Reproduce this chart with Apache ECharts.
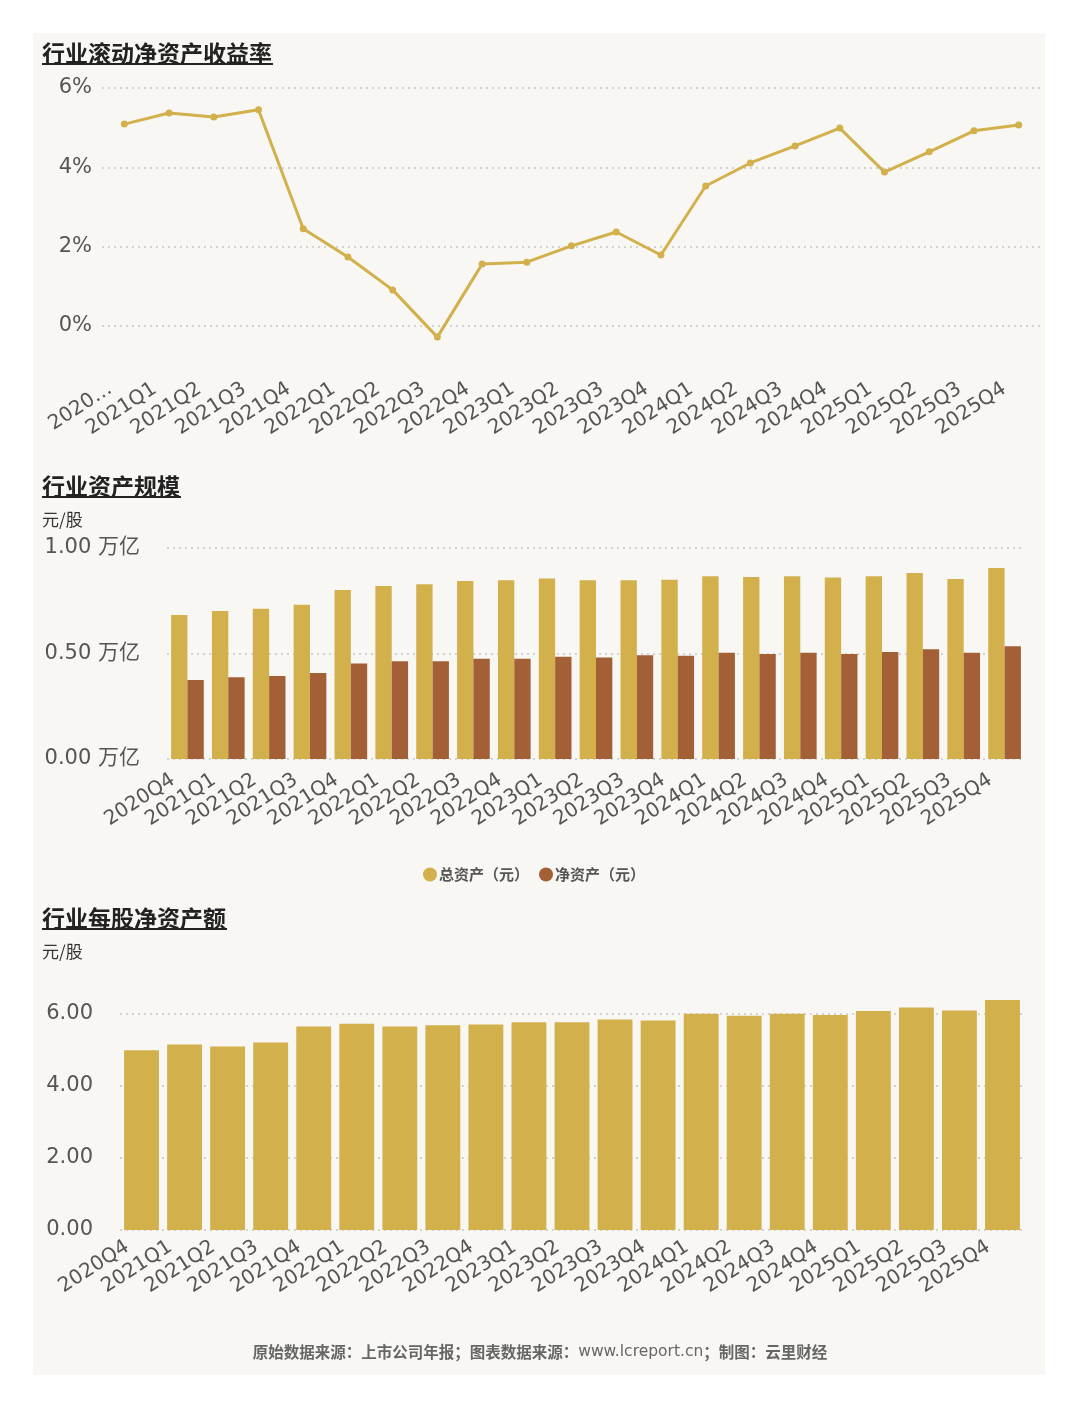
<!DOCTYPE html>
<html>
<head>
<meta charset="utf-8">
<script src="https://cdn.jsdelivr.net/npm/echarts@6/dist/echarts.min.js"></script>
<style>
  html, body { margin: 0; padding: 0; background: #fff; }
  #main { width: 1080px; height: 1410px; }
</style>
</head>
<body>
<div id="main"></div>
<script>
var quarters = ['2020Q4', '2021Q1', '2021Q2', '2021Q3', '2021Q4', '2022Q1', '2022Q2', '2022Q3', '2022Q4',
  '2023Q1', '2023Q2', '2023Q3', '2023Q4', '2024Q1', '2024Q2', '2024Q3', '2024Q4',
  '2025Q1', '2025Q2', '2025Q3', '2025Q4'];

// 行业滚动净资产收益率 (%)
var roeValues = [5.09, 5.37, 5.27, 5.45, 2.45, 1.74, 0.91, -0.28, 1.56, 1.61, 2.02, 2.37, 1.79,
  3.53, 4.11, 4.54, 4.99, 3.88, 4.39, 4.92, 5.07];

// 行业资产规模 (万亿)
var totalAssets = [0.682, 0.701, 0.712, 0.731, 0.801, 0.820, 0.828, 0.844, 0.847, 0.856, 0.847, 0.847, 0.850,
  0.866, 0.863, 0.866, 0.860, 0.866, 0.882, 0.853, 0.905];
var netAssets = [0.374, 0.387, 0.393, 0.408, 0.453, 0.463, 0.463, 0.475, 0.475, 0.485, 0.481, 0.492, 0.489,
  0.504, 0.498, 0.504, 0.498, 0.507, 0.520, 0.504, 0.534];

// 行业每股净资产额 (元/股)
var navPerShare = [4.99, 5.15, 5.10, 5.21, 5.65, 5.73, 5.65, 5.69, 5.71, 5.77, 5.77, 5.85, 5.82,
  6.01, 5.95, 6.01, 5.97, 6.08, 6.18, 6.10, 6.39];

var titles = ['行业滚动净资产收益率', '行业资产规模', '行业每股净资产额'];
var seriesNames = ['总资产（元）', '净资产（元）'];
var unitLabel = '元/股';
var footerParts = ['原始数据来源：上市公司年报；图表数据来源：', 'www.lcreport.cn', '；制图：云里财经'];

var GOLD = '#D2B04C';
var BROWN = '#A35F36';
var LABEL = '#555';
var latinFont = 'DejaVu Sans, Noto Sans CJK SC';
var cjkFont = 'Noto Sans CJK SC';

var chart = echarts.init(document.getElementById('main'));

var splitLine = {
  show: true,
  lineStyle: { color: '#c9c6c2', type: [2, 4], width: 1.5 }
};

function xCat(grid, offset, margin, fmt) {
  return {
    type: 'category',
    gridIndex: grid,
    data: quarters,
    offset: offset,
    axisLine: { show: false },
    axisTick: { show: false },
    axisLabel: {
      interval: 0,
      rotate: 33,
      margin: margin,
      padding: [0, 17, 0, 0],
      color: LABEL,
      fontSize: 20,
      fontFamily: latinFont,
      formatter: fmt
    }
  };
}

function yVal(grid, max, interval, fmt, margin) {
  return {
    type: 'value',
    gridIndex: grid,
    min: 0,
    max: max,
    interval: interval,
    axisLine: { show: false },
    axisTick: { show: false },
    splitLine: splitLine,
    axisLabel: { color: LABEL, fontSize: 21, fontFamily: latinFont, margin: margin, formatter: fmt }
  };
}

function titleBlock(text, y, underlineW) {
  return [{
    type: 'text',
    style: {
      text: text, x: 42, y: y, verticalAlign: 'middle',
      fontSize: 23, fontWeight: 'bold', fontFamily: cjkFont, fill: '#222'
    }
  }, {
    type: 'rect',
    shape: { x: 42, y: y + 10, width: underlineW, height: 2 },
    style: { fill: '#222' }
  }];
}

function unitText(y) {
  return {
    type: 'text',
    style: {
      text: unitLabel, x: 42, y: y, verticalAlign: 'middle',
      fontSize: 17, fontFamily: cjkFont, fill: '#333'
    }
  };
}

var graphics = [{
  type: 'rect', z: -10,
  shape: { x: 33, y: 33, width: 1012, height: 1342 },
  style: { fill: '#F9F7F4' }
}]
  .concat(titleBlock(titles[0], 53, 231))
  .concat(titleBlock(titles[1], 486, 139))
  .concat(titleBlock(titles[2], 918, 185))
  .concat([unitText(520), unitText(952), {
    type: 'text',
    style: {
      text: '{a|' + footerParts[0] + '}{b|' + footerParts[1] + '}{a|' + footerParts[2] + '}',
      x: 540, y: 1352, align: 'center', verticalAlign: 'middle',
      rich: {
        a: { fontSize: 15.5, fontWeight: 'bold', fontFamily: cjkFont, fill: '#666' },
        b: { fontSize: 15.5, fontFamily: latinFont, fill: '#666' }
      }
    }
  }]);

chart.setOption({
  backgroundColor: '#fff',
  animation: false,
  graphic: graphics,
  legend: {
    data: seriesNames,
    left: 418,
    top: 862,
    icon: 'circle',
    itemWidth: 14,
    itemHeight: 14,
    itemGap: 10,
    textStyle: { color: LABEL, fontSize: 15, fontWeight: 'bold', fontFamily: cjkFont, padding: [0, 0, 0, -3] }
  },
  grid: [
    { left: 102, right: 39, top: 88, height: 238 },
    { left: 167, right: 55, top: 548, height: 211 },
    { left: 120, right: 56, top: 1014, height: 216 }
  ],
  xAxis: [
    xCat(0, 43, 9, function (v, i) { return i === 0 ? v.slice(0, 4) + '…' : v; }),
    xCat(1, 0, 10),
    xCat(2, 0, 6)
  ],
  yAxis: [
    yVal(0, 6, 2, function (v) { return v + '%'; }, 10),
    yVal(1, 1, 0.5, function (v) { return v.toFixed(2) + ' 万亿'; }, 27),
    yVal(2, 6, 2, function (v) { return v.toFixed(2); }, 27)
  ],
  series: [{
    type: 'line',
    xAxisIndex: 0,
    yAxisIndex: 0,
    data: roeValues,
    clip: false,
    symbol: 'circle',
    symbolSize: 7,
    itemStyle: { color: GOLD },
    lineStyle: { color: GOLD, width: 3 }
  }, {
    name: seriesNames[0],
    type: 'bar',
    xAxisIndex: 1,
    yAxisIndex: 1,
    data: totalAssets,
    barWidth: '40%',
    barGap: '0%',
    itemStyle: { color: GOLD }
  }, {
    name: seriesNames[1],
    type: 'bar',
    xAxisIndex: 1,
    yAxisIndex: 1,
    data: netAssets,
    barWidth: '40%',
    barGap: '0%',
    itemStyle: { color: BROWN }
  }, {
    type: 'bar',
    xAxisIndex: 2,
    yAxisIndex: 2,
    data: navPerShare,
    clip: false,
    barWidth: '81%',
    itemStyle: { color: GOLD }
  }]
});
</script>
</body>
</html>
